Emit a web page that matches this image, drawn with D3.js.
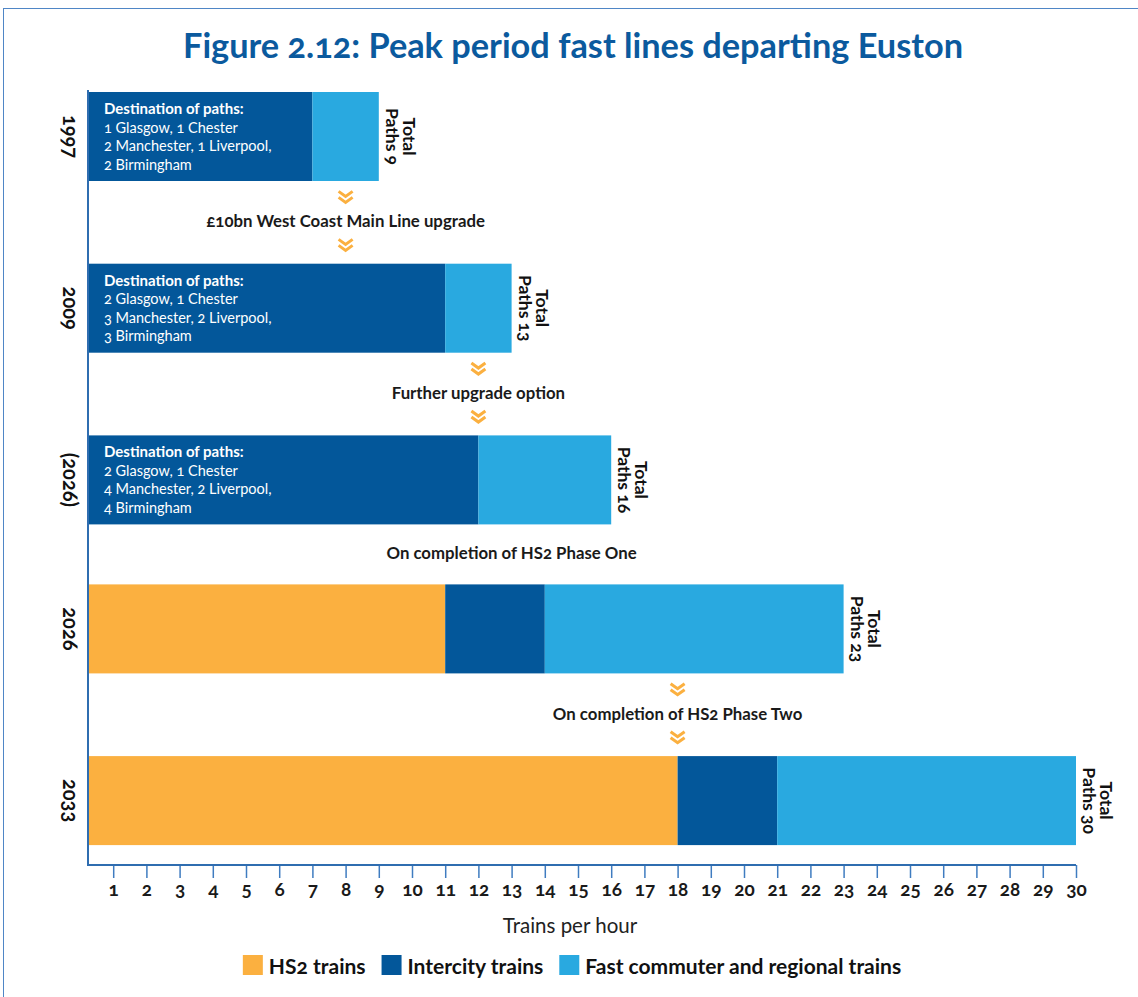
<!DOCTYPE html>
<html>
<head>
<meta charset="utf-8">
<script src="https://cdnjs.cloudflare.com/ajax/libs/d3/7.8.5/d3.min.js"></script>
<style>
  body { margin: 0; background: #fff; }
  svg text { font-family: Lato, 'Open Sans', sans-serif; font-variant-numeric: oldstyle-nums; }
</style>
</head>
<body>
<svg id="chart" width="1138" height="997"></svg>
<script>
'use strict';

// data
const years = ['1997', '2009', '(2026)', '2026', '2033'];
const hs2Trains = [0, 0, 0, 11, 18];
const intercityTrains = [7, 11, 12, 3, 3];
const commuterTrains = [2, 2, 4, 9, 9];
const totalPaths = [9, 13, 16, 23, 30];
const destinations = [
    ['1 Glasgow, 1 Chester', '2 Manchester, 1 Liverpool,', '2 Birmingham'],
    ['2 Glasgow, 1 Chester', '3 Manchester, 2 Liverpool,', '3 Birmingham'],
    ['2 Glasgow, 1 Chester', '4 Manchester, 2 Liverpool,', '4 Birmingham'],
    null,
    null
];
const steps = ['£10bn West Coast Main Line upgrade', 'Further upgrade option',
    'On completion of HS2 Phase One', 'On completion of HS2 Phase Two'];
const stepAt = [8, 12, 13, 18];
const stepChevrons = [true, true, false, true];
const tickValues = d3.range(1, 31);
const seriesKeys = ['hs2', 'intercity', 'commuter'];
const seriesNames = ['HS2 trains', 'Intercity trains', 'Fast commuter and regional trains'];
const seriesColors = ['#fbb040', '#03579a', '#29a9e0'];

document.addEventListener('DOMContentLoaded', function() {
    const svg = d3.select('#chart');
    const axisX = 88;
    const axisY = 865;
    const bw = 89;

    const rows = years.map(function(yr, i) {
        return { year: yr, hs2: hs2Trains[i], intercity: intercityTrains[i], commuter: commuterTrains[i] };
    });
    const stacked = d3.stack().keys(seriesKeys)(rows);
    const color = d3.scaleOrdinal().domain(seriesKeys).range(seriesColors);

    const x = d3.scaleLinear().domain([0, 30]).range([80, 1076]);

    // rows: gaps with chevrons are taller than plain ones
    const tops = [92];
    stepChevrons.forEach(function(c, i) {
        tops.push(tops[i] + bw + (c ? 82.7 : 60));
    });
    const y = d3.scaleOrdinal().domain(years).range(tops);

    // frame
    svg.append('rect')
        .attr('x', 3.5).attr('y', 8.5)
        .attr('width', 1200).attr('height', 1100)
        .attr('fill', 'none')
        .attr('stroke', '#4f86c6');

    // title
    const title = svg.append('text')
        .attr('x', 573).attr('y', 58)
        .attr('text-anchor', 'middle')
        .attr('font-size', 35)
        .attr('font-weight', 'bold')
        .attr('fill', '#0b5a9e')
        .text('Figure 2.12: Peak period fast lines departing Euston');
    if (title.node().getComputedTextLength() > 780) {
        title.attr('textLength', 780).attr('lengthAdjust', 'spacingAndGlyphs');
    }

    // bars
    svg.append('g')
        .selectAll('g')
        .data(stacked)
        .enter().append('g')
            .attr('fill', function(d) { return color(d.key); })
        .selectAll('rect')
        .data(function(d) { return d.filter(function(p) { return p[1] > p[0]; }); })
        .enter().append('rect')
            .attr('x', function(d) { return Math.max(x(d[0]), axisX); })
            .attr('y', function(d) { return y(d.data.year); })
            .attr('width', function(d) { return x(d[1]) - Math.max(x(d[0]), axisX); })
            .attr('height', bw);

    // destination notes inside bars
    years.forEach(function(yr, i) {
        if (!destinations[i]) {
            return;
        }
        const t = svg.append('text')
            .attr('fill', '#fff')
            .attr('font-size', 14.5)
            .attr('transform', 'translate(' + (axisX + 16) + ',' + (y(yr) + 22) + ')');
        t.append('tspan')
            .attr('x', 0)
            .attr('font-size', 15)
            .attr('font-weight', 'bold')
            .text('Destination of paths:');
        destinations[i].forEach(function(line) {
            t.append('tspan').attr('x', 0).attr('dy', 18.5).text(line);
        });
    });

    // totals
    years.forEach(function(yr, i) {
        const t = svg.append('text')
            .attr('transform', 'translate(' + (x(totalPaths[i]) + 24) + ',' + (y(yr) + bw / 2) + ') rotate(90)')
            .attr('text-anchor', 'middle')
            .attr('font-size', 17.5)
            .attr('font-weight', 'bold')
            .attr('fill', '#111');
        t.append('tspan').attr('x', 0).text('Total');
        t.append('tspan').attr('x', 0).attr('dy', 17).text('Paths ' + totalPaths[i]);
    });

    // year labels
    svg.append('g')
        .selectAll('text')
        .data(years)
        .enter().append('text')
            .attr('transform', function(d) { return 'translate(63,' + (y(d) + bw / 2) + ') rotate(90)'; })
            .attr('text-anchor', 'middle')
            .attr('font-size', 20)
            .attr('font-weight', 'bold')
            .attr('fill', '#111')
            .text(function(d) { return d; });

    // transitions between rows
    const chevron = 'M-7,-5L0,0L7,-5M-7,1L0,6L7,1';
    steps.forEach(function(label, i) {
        const mid = (y(years[i]) + bw + y(years[i + 1])) / 2;
        const cx = x(stepAt[i]);
        svg.append('text')
            .attr('x', cx).attr('y', mid + 5)
            .attr('text-anchor', 'middle')
            .attr('font-size', 16.8)
            .attr('font-weight', 'bold')
            .attr('fill', '#1a1a1a')
            .text(label);
        if (stepChevrons[i]) {
            [mid - 26, mid + 22].forEach(function(cy) {
                svg.append('path')
                    .attr('d', chevron)
                    .attr('transform', 'translate(' + cx + ',' + cy + ')')
                    .attr('fill', 'none')
                    .attr('stroke', '#fbb040')
                    .attr('stroke-width', 3);
            });
        }
    });

    // axes
    const xAxis = svg.append('g')
        .attr('transform', 'translate(0,' + axisY + ')')
        .call(d3.axisBottom(x).tickValues(tickValues).tickSize(13).tickPadding(5));
    xAxis.select('.domain').remove();
    xAxis.selectAll('.tick line').attr('stroke', '#3f7cc0').attr('stroke-width', 1.5);
    xAxis.selectAll('.tick text')
        .attr('font-family', null)
        .attr('font-size', 19)
        .attr('font-weight', 'bold')
        .attr('fill', '#1a1a1a');

    svg.append('line')
        .attr('x1', axisX).attr('x2', x(30))
        .attr('y1', axisY).attr('y2', axisY)
        .attr('stroke', '#2f6db0').attr('stroke-width', 2);
    svg.append('line')
        .attr('x1', axisX).attr('x2', axisX)
        .attr('y1', 90).attr('y2', axisY + 1)
        .attr('stroke', '#2f6db0').attr('stroke-width', 2);

    svg.append('text')
        .attr('x', 570).attr('y', 933)
        .attr('text-anchor', 'middle')
        .attr('font-size', 20.5)
        .attr('fill', '#222')
        .text('Trains per hour');

    // legend
    const legend = svg.append('g');
    let lx = 0;
    seriesKeys.forEach(function(key, i) {
        const item = legend.append('g').attr('transform', 'translate(' + lx + ',0)');
        item.append('rect')
            .attr('x', 0).attr('y', 955)
            .attr('width', 20).attr('height', 20)
            .attr('fill', color(key));
        const t = item.append('text')
            .attr('x', 26).attr('y', 974)
            .attr('font-size', 21)
            .attr('font-weight', 'bold')
            .attr('fill', '#111')
            .text(seriesNames[i]);
        lx += 26 + t.node().getComputedTextLength() + 16;
    });
    lx -= 16;
    legend.attr('transform', 'translate(' + (572 - lx / 2) + ',0)');
}, false);
</script>
</body>
</html>
